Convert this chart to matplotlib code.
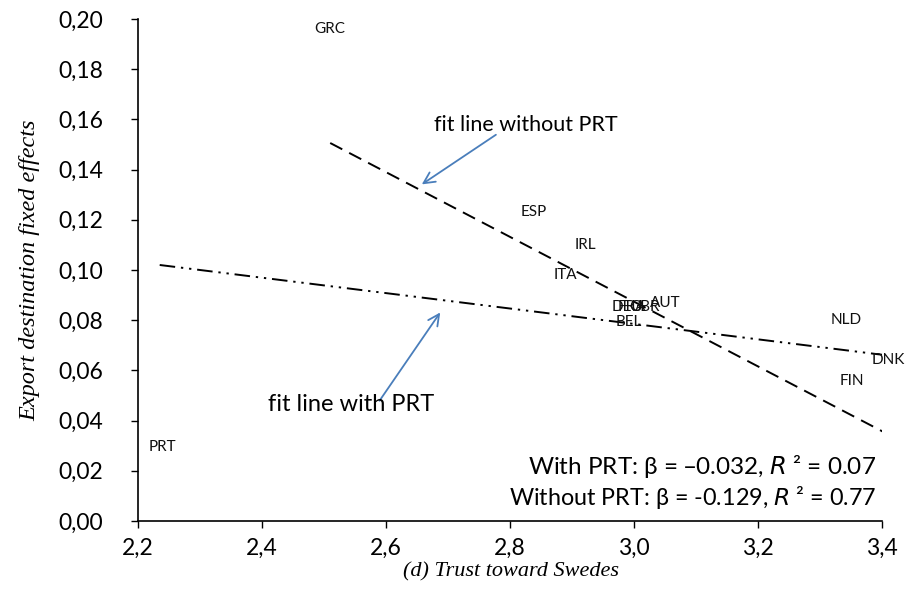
import matplotlib
matplotlib.use("Agg")
import matplotlib.pyplot as plt
from matplotlib.ticker import FuncFormatter
import numpy as np

# Country labels (placed at data points, no markers)
countries = ["GRC", "ESP", "IRL", "ITA", "DEU", "FRA", "GBR", "AUT", "BEL", "NLD", "DNK", "FIN", "PRT"]
trust = [2.51, 2.839, 2.921, 2.890, 2.989, 2.997, 3.017, 3.05, 2.992, 3.342, 3.41, 3.352, 2.239]
fixed_eff = [0.196, 0.123, 0.110, 0.098, 0.0853, 0.0853, 0.0853, 0.0869, 0.0793, 0.0801, 0.0641, 0.0558, 0.0295]

# Fit lines: (slope, intercept, x-range)
fit_without_slope = -0.129
fit_without_icpt = 0.1506 + 0.129 * 2.51
fit_without_x = [2.51, 3.41]
fit_with_slope = -0.0307
fit_with_icpt = 0.102 + 0.0307 * 2.235
fit_with_x = [2.235, 3.405]

xticks = [2.2, 2.4, 2.6, 2.8, 3.0, 3.2, 3.4]
yticks = [0.00, 0.02, 0.04, 0.06, 0.08, 0.10, 0.12, 0.14, 0.16, 0.18, 0.20]

sans = ["Lato", "DejaVu Sans"]
serif = ["Liberation Serif", "DejaVu Serif"]

fig = plt.figure(figsize=(9.2, 5.94), dpi=100)
ax = fig.add_axes([0.15, 0.1229, 0.8087, 0.8451])

for c, x, y in zip(countries, trust, fixed_eff):
    ax.text(x, y, c, ha="center", va="center", fontsize=11, family=sans, color="#111111")

xw = np.array(fit_without_x)
ax.plot(xw, fit_without_icpt + fit_without_slope * xw, color="black", lw=1.4,
        dashes=(7, 4))
xp = np.array(fit_with_x)
ax.plot(xp, fit_with_icpt + fit_with_slope * xp, color="black", lw=1.4,
        dashes=(8, 3, 1.2, 3, 1.2, 3))

arrow_kw = dict(arrowstyle="->", color="#4a7ebb", lw=1.3, mutation_scale=20)
ax.annotate("", xy=(2.654, 0.1335), xytext=(2.781, 0.1545), arrowprops=arrow_kw)
ax.text(2.826, 0.1577, "fit line without PRT", ha="center", va="center", fontsize=15.5, family=sans)
ax.annotate("", xy=(2.69, 0.0840), xytext=(2.587, 0.0470), arrowprops=arrow_kw)
ax.text(2.544, 0.0466, "fit line with PRT", ha="center", va="center", fontsize=17, family=sans)

ax.text(3.39, 0.0218, "With PRT: \u03b2 = \u20130.032, $\\it{R}$ \u00b2 = 0.07", ha="right", va="center",
        fontsize=17.5, family=sans)
ax.text(3.39, 0.0095, "Without PRT: \u03b2 = -0.129, $\\it{R}$ \u00b2 = 0.77", ha="right", va="center",
        fontsize=16.8, family=sans)

ax.set_xlim(2.2, 3.4)
ax.set_ylim(0, 0.20)
ax.set_xticks(xticks)
ax.set_yticks(yticks)
ax.xaxis.set_major_formatter(FuncFormatter(lambda v, p: f"{v:.1f}".replace(".", ",")))
ax.yaxis.set_major_formatter(FuncFormatter(lambda v, p: f"{v:.2f}".replace(".", ",")))
for lab in ax.get_xticklabels() + ax.get_yticklabels():
    lab.set_family(sans)
    lab.set_fontsize(16.5)
ax.tick_params(axis="both", direction="out", length=5, width=1)
ax.tick_params(axis="y", pad=20)
ax.tick_params(axis="x", pad=7)
ax.spines["top"].set_visible(False)
ax.spines["right"].set_visible(False)
ax.spines["left"].set_linewidth(1.2)
ax.spines["bottom"].set_linewidth(1.2)

fig.text(30 / 920, 0.545, "Export destination fixed effects", rotation=90, ha="center", va="center",
         family=serif, style="italic", fontsize=17.5)
fig.text(0.555, 0.037, "(d) Trust toward Swedes", ha="center", va="center", family=serif,
         style="italic", fontsize=16)

fig.savefig("out.png", dpi=100)
